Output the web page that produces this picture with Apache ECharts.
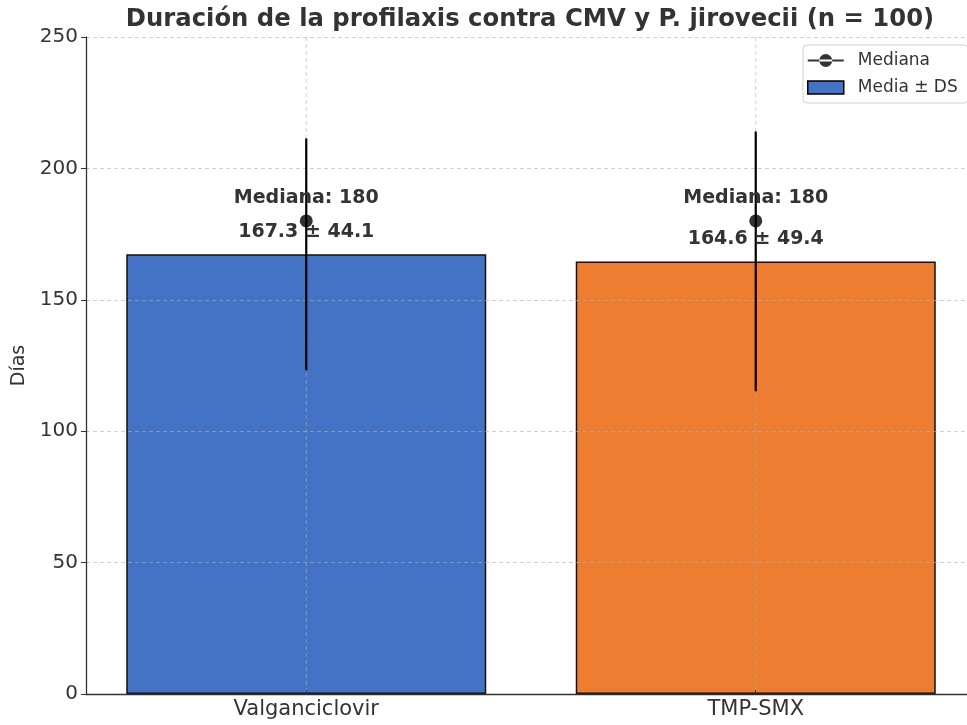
<!DOCTYPE html>
<html>
<head>
<meta charset="utf-8">
<script src="https://cdn.jsdelivr.net/npm/echarts@6/dist/echarts.min.js"></script>
<style>html,body{margin:0;padding:0;background:#fff;overflow:hidden;}#c{width:967px;height:725px;}</style>
</head>
<body>
<div id="c"></div>
<script>
const categories = ['Valganciclovir', 'TMP-SMX'];
const means = [167.3, 164.6];
const sds = [44.1, 49.4];
const medians = [180, 180];
const barColors = ['#4472C4', '#ED7D31'];

const FONT = 'DejaVu Sans';
const chart = echarts.init(document.getElementById('c'));

const idx = categories.map((_, i) => i);
const GRID_COLOR = 'rgba(176,176,176,0.6)';

const option = {
  backgroundColor: '#fff',
  animation: false,
  textStyle: { fontFamily: FONT },
  title: {
    text: 'Duración de la profilaxis contra CMV y P. jirovecii (n = 100)',
    left: 525, top: 3, textAlign: 'center',
    textStyle: { fontFamily: FONT, fontWeight: 'bold', fontSize: 24.3, color: '#333' }
  },
  grid: { left: 86, width: 890, top: 37, height: 657, outerBoundsMode: 'none', containLabel: false },
  legend: {
    orient: 'vertical', left: 803, top: 45,
    backgroundColor: '#fff', borderColor: '#d0d0d0', borderWidth: 1, borderRadius: 4,
    padding: [7, 10, 7, 4], itemGap: 10, itemWidth: 36, itemHeight: 13,
    textStyle: { fontFamily: FONT, fontSize: 17, color: '#333', padding: [0, 0, 0, 9] },
    data: [
      { name: 'Mediana', icon: 'path://M0,5.4H36V7.6H0Z M11.5,6.5A6.5,6.5 0 1 0 24.5,6.5A6.5,6.5 0 1 0 11.5,6.5Z', itemStyle: { color: '#000' } },
      { name: 'Media ± DS', icon: 'rect', itemStyle: { color: barColors[0], borderColor: '#000', borderWidth: 1.5 } }
    ]
  },
  xAxis: {
    type: 'value', min: -0.49, max: 1.49, z: 3,
    axisLine: { show: true, onZero: false, lineStyle: { color: '#333', width: 1.3 } },
    axisTick: { show: true, inside: true, length: 4, customValues: idx, lineStyle: { color: '#333' } },
    axisLabel: {
      customValues: idx, formatter: v => categories[Math.round(v)] || '',
      fontFamily: FONT, fontSize: 21, color: '#333', margin: 5
    },
    splitLine: { show: false }
  },
  yAxis: {
    type: 'value', min: 0, max: 250, interval: 50, z: 3,
    name: 'Días', nameLocation: 'middle', nameGap: 53,
    nameTextStyle: { fontFamily: FONT, fontSize: 19, color: '#333' },
    axisLine: { show: true, onZero: false, lineStyle: { color: '#333', width: 1.3 } },
    axisTick: { show: true, length: 5, lineStyle: { color: '#333' } },
    axisLabel: { fontFamily: FONT, fontSize: 20, color: '#333', margin: 8 },
    splitLine: { show: true, lineStyle: { color: GRID_COLOR, type: [4, 3], width: 1 } }
  },
  series: [
    {
      name: 'Media ± DS', type: 'bar', barWidth: 360, z: 2,
      data: idx.map(i => ({ value: [i, means[i]], itemStyle: { color: barColors[i], borderColor: '#111', borderWidth: 1.5 } }))
    },
    {
      name: 'grid-x', type: 'custom', z: 3, silent: true,
      data: idx.map(i => [i]),
      renderItem: (params, api) => {
        const top = api.coord([api.value(0), 250]);
        const bot = api.coord([api.value(0), 0]);
        return { type: 'line', shape: { x1: top[0], y1: top[1], x2: bot[0], y2: bot[1] },
          style: { stroke: GRID_COLOR, lineWidth: 1, lineDash: [4, 3] } };
      }
    },
    {
      name: 'err', type: 'custom', z: 4, silent: true,
      data: idx.map(i => [i, means[i] - sds[i], means[i] + sds[i]]),
      renderItem: (params, api) => {
        const lo = api.coord([api.value(0), api.value(1)]);
        const hi = api.coord([api.value(0), api.value(2)]);
        return { type: 'line', shape: { x1: lo[0], y1: lo[1], x2: hi[0], y2: hi[1] }, style: { stroke: '#000', lineWidth: 2.2 } };
      }
    },
    {
      name: 'Mediana', type: 'scatter', z: 5, symbol: 'circle', symbolSize: 13,
      itemStyle: { color: '#000' },
      data: idx.map(i => [i, medians[i]])
    },
    {
      name: 'labels', type: 'custom', z: 6, silent: true,
      data: idx.map(i => [i, medians[i], means[i], sds[i]]),
      renderItem: (params, api) => {
        const i = params.dataIndex;
        const p1 = api.coord([api.value(0), medians[i] + 5]);
        const p2 = api.coord([api.value(0), means[i] + 5]);
        const st = { fontFamily: FONT, fontWeight: 'bold', fontSize: 19, fill: '#333', align: 'center', verticalAlign: 'bottom' };
        return { type: 'group', children: [
          { type: 'text', x: p1[0], y: p1[1], style: Object.assign({ text: 'Mediana: ' + medians[i] }, st) },
          { type: 'text', x: p2[0], y: p2[1], style: Object.assign({ text: means[i].toFixed(1) + ' ± ' + sds[i].toFixed(1) }, st) }
        ] };
      }
    }
  ]
};
chart.setOption(option);
</script>
</body>
</html>
